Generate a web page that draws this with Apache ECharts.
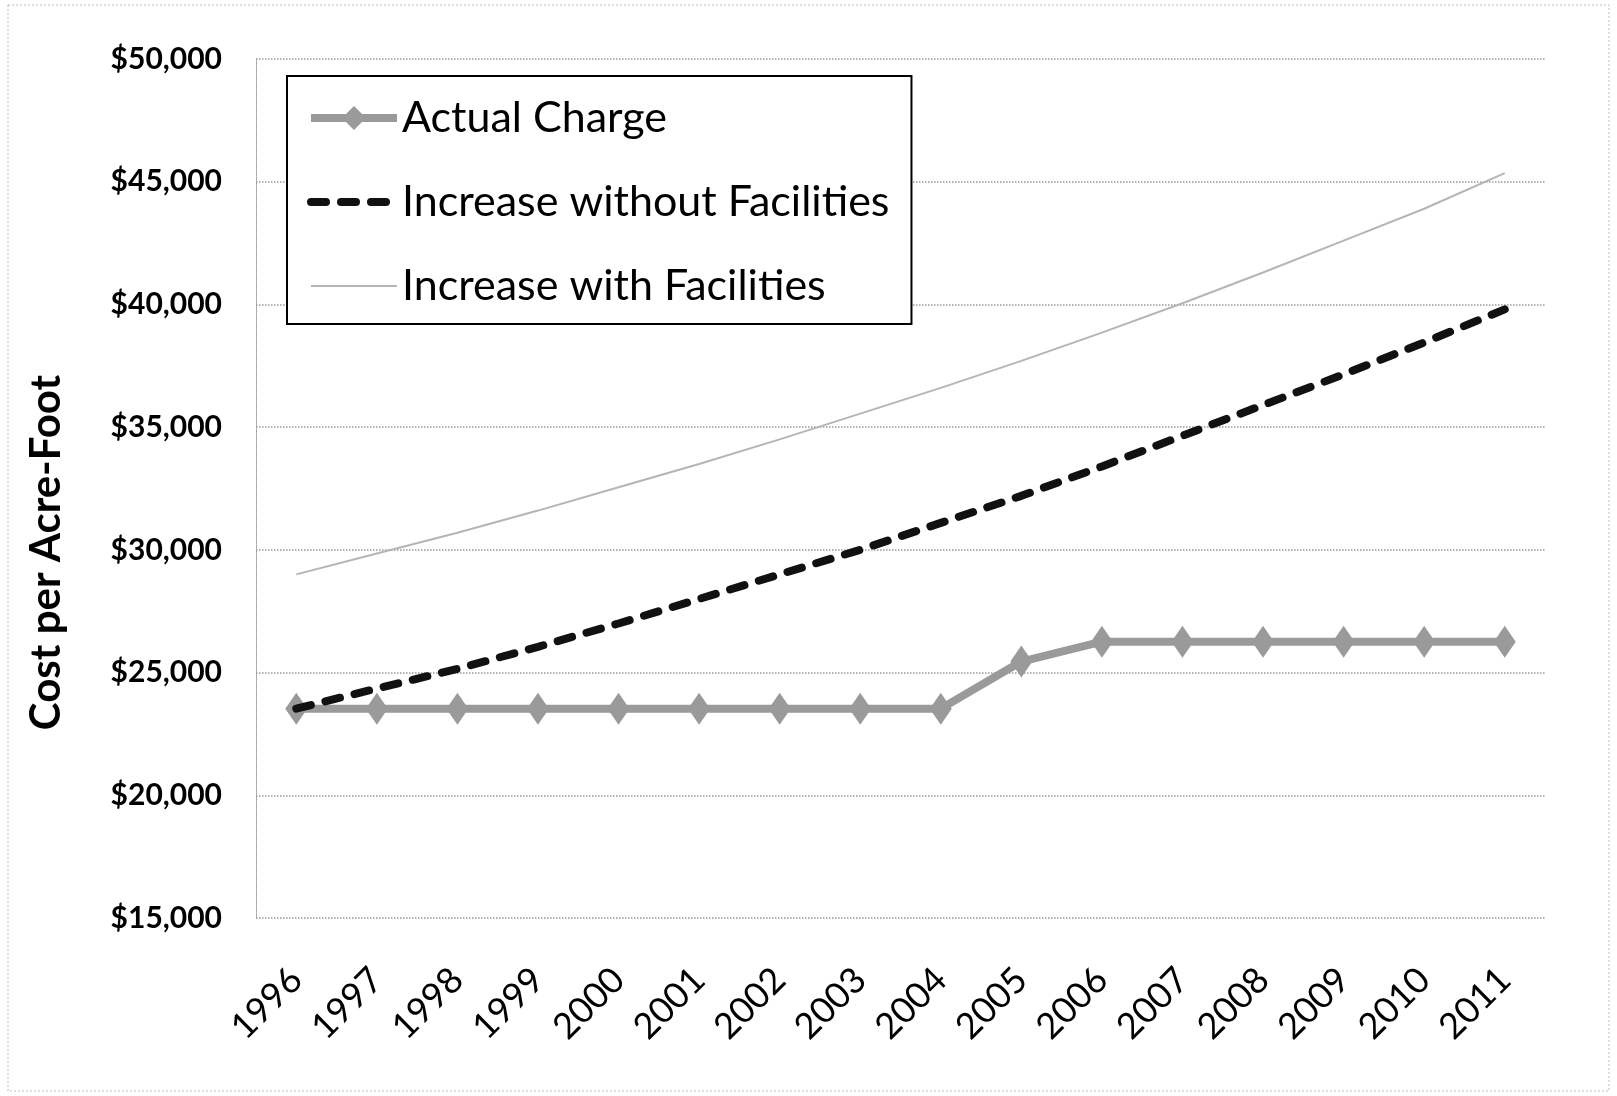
<!DOCTYPE html>
<html>
<head>
<meta charset="utf-8">
<script src="https://cdn.jsdelivr.net/npm/echarts@6/dist/echarts.min.js"></script>
<style>
html,body{margin:0;padding:0;background:#fff;}
#c{width:1617px;height:1096px;}
</style>
</head>
<body>
<div id="c"></div>
<script>
const years = ['1996','1997','1998','1999','2000','2001','2002','2003','2004','2005','2006','2007','2008','2009','2010','2011'];
const actualCharge = [23530,23530,23530,23530,23530,23530,23530,23530,23530,25450,26260,26260,26260,26260,26260,26260];
const increaseWithout = [23530,24350,25150,26050,27000,28000,29000,30000,31100,32200,33400,34650,35900,37150,38450,39800];
const increaseWith = [29000,29850,30700,31600,32550,33500,34500,35550,36600,37700,38850,40050,41300,42600,43900,45350];
const yTicks = {min:15000, max:50000, interval:5000};

const chart = echarts.init(document.getElementById('c'));
const FONT = 'Lato';
const GRAY = '#9a9a9a';
const DASH = [15,15];
const CLEAR = 'rgba(0,0,0,0)';
chart.setOption({
  animation:false,
  backgroundColor:'#fff',
  graphic:[{type:'rect', shape:{x:8,y:5,width:1601,height:1086}, style:{fill:'none', stroke:'#bbb', lineWidth:1, lineDash:[2,2]}, silent:true}],
  grid:{left:256, right:72, top:59, bottom:178, containLabel:false},
  legend:{
    orient:'vertical', left:287, top:76,
    padding:[19,22,15,20], itemGap:38,
    backgroundColor:'#fff', borderColor:'#000', borderWidth:2,
    itemWidth:86, itemHeight:30,
    textStyle:{fontFamily:FONT, fontSize:43, color:'#000', lineHeight:46},
    data:[
      {name:'Actual Charge', lineStyle:{width:8, color:GRAY}, itemStyle:{color:GRAY}},
      {name:'Increase without Facilities', itemStyle:{color:CLEAR, borderWidth:0}, lineStyle:{width:8, color:'#111', type:DASH, cap:'round'}},
      {name:'Increase with Facilities', itemStyle:{color:CLEAR, borderWidth:0}, lineStyle:{width:2, color:'#b5b5b5'}}
    ]
  },
  xAxis:{
    type:'category', data:years, boundaryGap:true,
    axisLine:{show:false}, axisTick:{show:false},
    axisLabel:{rotate:45, fontFamily:FONT, fontSize:36, color:'#000', margin:56}
  },
  yAxis:{
    type:'value', min:yTicks.min, max:yTicks.max, interval:yTicks.interval,
    name:'Cost per Acre-Foot', nameLocation:'middle', nameGap:189, nameRotate:90,
    nameTextStyle:{fontFamily:FONT, fontSize:42, fontWeight:'bold', color:'#000', padding:[0,128,0,0]},
    axisLine:{show:true, lineStyle:{color:'#999', type:'dotted', width:1}},
    axisTick:{show:false},
    axisLabel:{fontFamily:FONT, fontSize:30, fontWeight:'bold', color:'#000', margin:34,
      formatter:v => '$' + v.toLocaleString('en-US')},
    splitLine:{show:true, lineStyle:{color:'#999', type:'dotted', width:1.5}}
  },
  series:[
    {name:'Actual Charge', type:'line', data:actualCharge, symbol:'diamond', symbolSize:[22,32],
      itemStyle:{color:GRAY}, lineStyle:{color:GRAY, width:8}, z:3},
    {name:'Increase without Facilities', type:'line', data:increaseWithout, symbol:'none',
      itemStyle:{color:'#111'}, lineStyle:{color:'#111', width:8, type:DASH, cap:'round'}, z:4},
    {name:'Increase with Facilities', type:'line', data:increaseWith, symbol:'none',
      itemStyle:{color:'#b5b5b5'}, lineStyle:{color:'#b5b5b5', width:2}, z:2}
  ]
});
</script>
</body>
</html>
